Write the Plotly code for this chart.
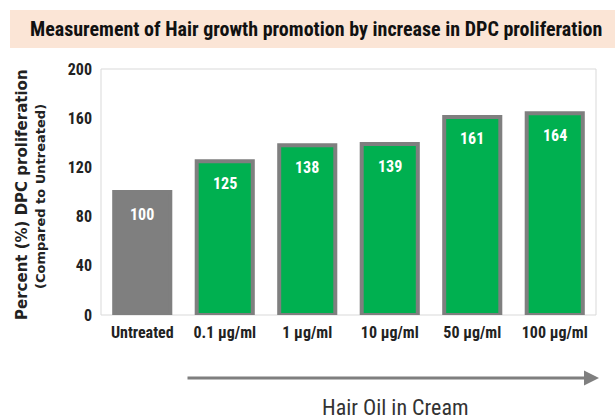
import plotly.graph_objects as go

categories = ["Untreated", "0.1 µg/ml", "1 µg/ml", "10 µg/ml", "50 µg/ml", "100 µg/ml"]
values = [100, 125, 138, 139, 161, 164]
bar_colors = ["#7f7f7f", "#00b050", "#00b050", "#00b050", "#00b050", "#00b050"]
y_ticks = [0, 40, 80, 120, 160, 200]

NARROW = "Liberation Sans Narrow, Arial Narrow, Roboto Condensed, sans-serif"

fig = go.Figure()
fig.add_trace(go.Bar(
    x=categories,
    y=values,
    marker=dict(color=bar_colors, line=dict(color="#7f7f7f", width=4)),
    cliponaxis=False,
))

W0, W1 = 101, 596
T0, B0 = 69, 315
def px(x):
    return (x - W0) / (W1 - W0)
def py(y):
    return (B0 - y) / (B0 - T0)

value_labels = [
    dict(text=str(v), x=c, y=v, xref="x", yref="y", showarrow=False,
         xanchor="center", yanchor="middle", yshift=-22,
         font=dict(family=NARROW, size=16, color="white", weight=700))
    for c, v in zip(categories, values)
]

fig.update_layout(
    width=615, height=420,
    margin=dict(l=W0, r=615 - W1, t=T0, b=420 - B0, autoexpand=False),
    paper_bgcolor="white", plot_bgcolor="white",
    showlegend=False,
    bargap=0.32,
    xaxis=dict(
        showgrid=False, zeroline=False, showline=False,
        tickfont=dict(family=NARROW, size=16, color="#222", weight=700),
        ticks="", ticklabelstandoff=6,
    ),
    yaxis=dict(
        range=[0, 200], tickvals=y_ticks, showgrid=False, zeroline=False,
        showline=False, ticks="",
        tickfont=dict(family=NARROW, size=16, color="#222", weight=700),
        ticklabelstandoff=8,
    ),
    shapes=[
        dict(type="rect", xref="paper", yref="paper", x0=0, x1=1, y0=0, y1=1,
             line=dict(color="#d9d9d9", width=1), fillcolor="rgba(0,0,0,0)", layer="below"),
        dict(type="rect", xref="paper", yref="paper", x0=px(10), x1=px(615), y0=py(48), y1=py(10),
             line=dict(width=0), fillcolor="#fbe5d6", layer="below"),
    ],
    annotations=value_labels + [
        dict(text="Measurement of Hair growth promotion by increase in DPC proliferation",
             xref="paper", yref="paper", x=px(316), y=py(29), showarrow=False,
             xanchor="center", yanchor="middle",
             font=dict(family=NARROW, size=20, color="#111", weight=700)),
        dict(text="Percent (%) DPC proliferation", xref="paper", yref="paper",
             x=px(22), y=py(195), textangle=-90, showarrow=False,
             xanchor="center", yanchor="middle",
             font=dict(family="DejaVu Sans", size=15, color="#222", weight=700)),
        dict(text="(Compared to Untreated)", xref="paper", yref="paper",
             x=px(40), y=py(197), textangle=-90, showarrow=False,
             xanchor="center", yanchor="middle",
             font=dict(family="DejaVu Sans", size=13, color="#222", weight=700)),
        dict(text="", xref="paper", yref="paper", x=px(599), y=py(378),
             ax=-(599 - 186), ay=0, axref="pixel", ayref="pixel", showarrow=True,
             arrowhead=2, arrowsize=1, arrowwidth=3, arrowcolor="#7f7f7f"),
        dict(text="Hair Oil in Cream", xref="paper", yref="paper",
             x=px(395), y=py(407), showarrow=False,
             xanchor="center", yanchor="middle",
             font=dict(family=NARROW, size=22, color="#333")),
    ],
)

fig.write_html("out.html", config={"displayModeBar": False},
               post_script="document.body.style.margin='0';")
